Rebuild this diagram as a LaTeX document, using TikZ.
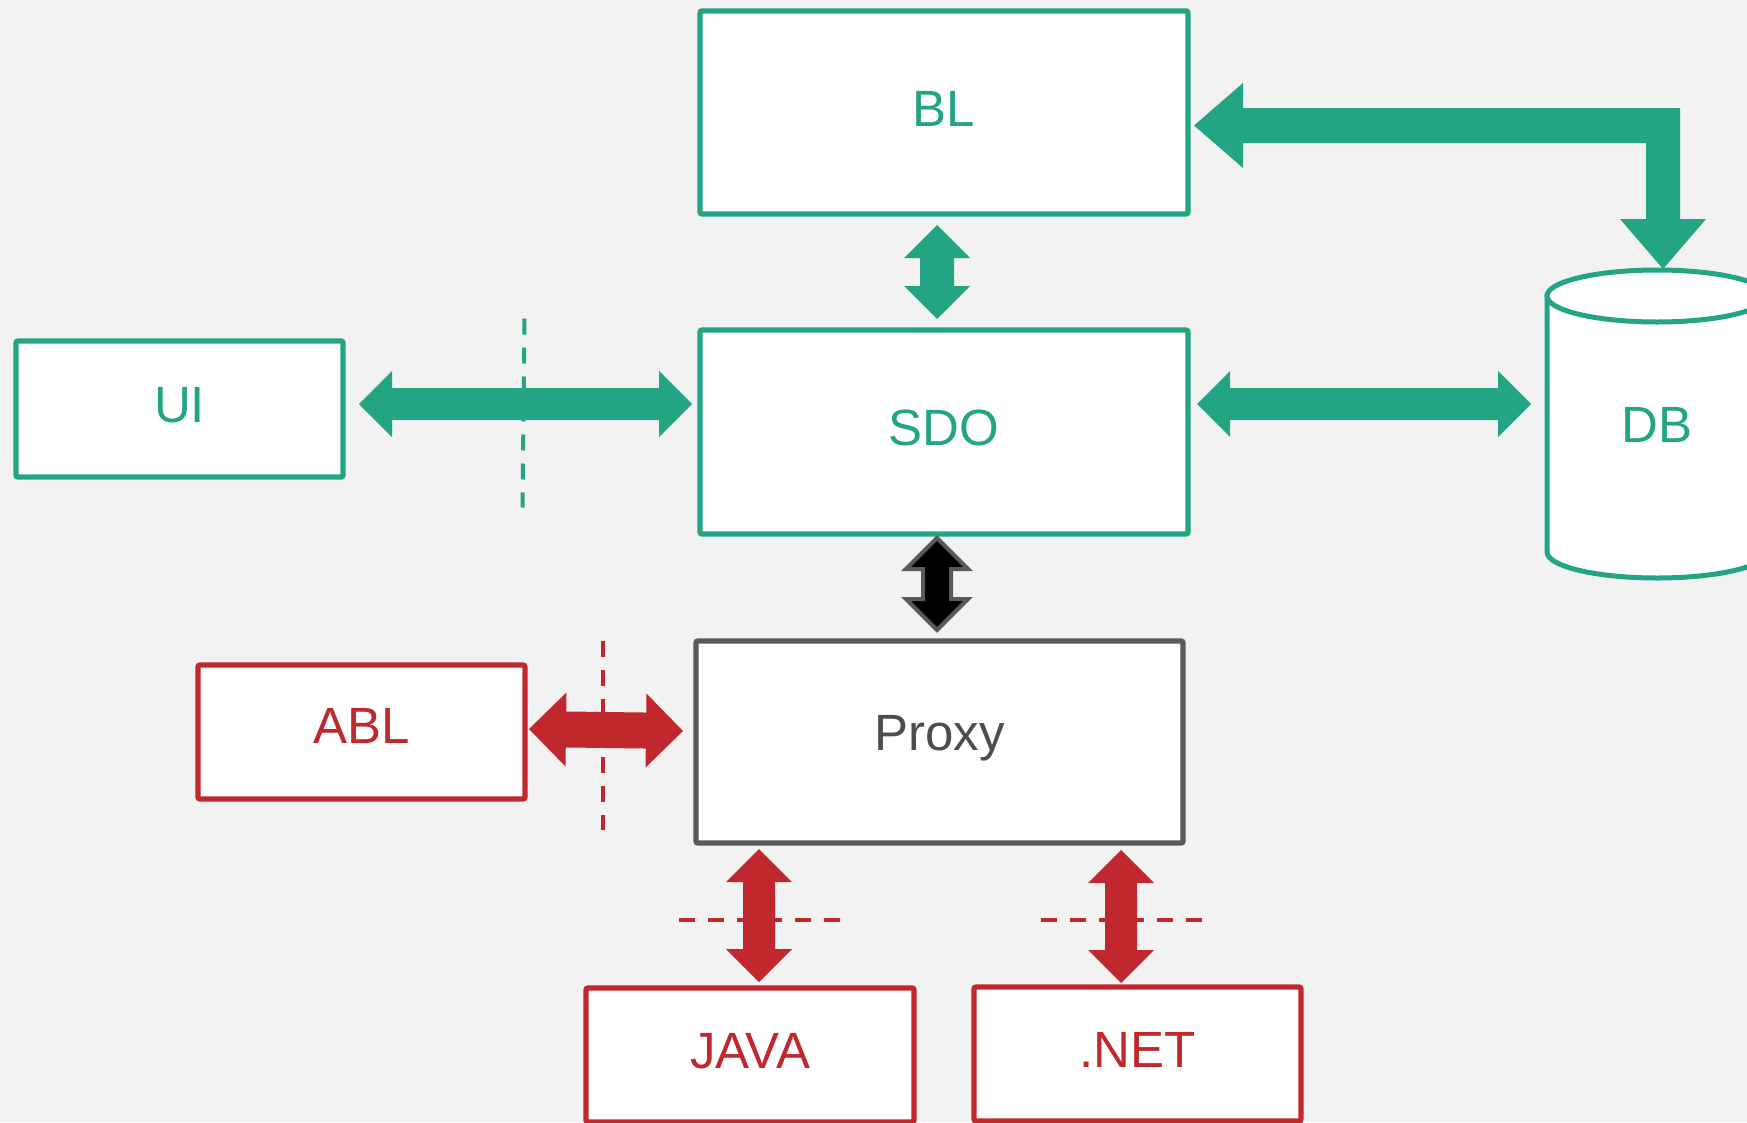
\documentclass[tikz,border=0pt]{standalone}
\usepackage{fontspec}
\setmainfont{Liberation Sans}
\usetikzlibrary{calc}
\definecolor{bg}{HTML}{F2F2F2}
\definecolor{grn}{HTML}{23A584}
\definecolor{rd}{HTML}{C0282D}
\definecolor{gry}{HTML}{595959}
\definecolor{prxtxt}{HTML}{4D4D4D}
% double block arrow: #1 tip A, #2 tip B, #3 style, #4 head length, #5 head half width, #6 shaft half width
\newcommand\dblarrow[6]{%
  \coordinate (hA) at ($(#1)!#4!(#2)$);
  \coordinate (hB) at ($(#2)!#4!(#1)$);
  \path[#3] (#1) -- ($(hA)!#5!90:(#2)$) -- ($(hA)!#6!90:(#2)$) -- ($(hB)!#6!-90:(#1)$)
    -- ($(hB)!#5!-90:(#1)$) -- (#2) -- ($(hB)!#5!90:(#1)$) -- ($(hB)!#6!90:(#1)$)
    -- ($(hA)!#6!-90:(#2)$) -- ($(hA)!#5!-90:(#2)$) -- cycle;}
\tikzset{
  box/.style={draw=#1, fill=white, line width=5.3pt, rounded corners=2pt, inner sep=0pt, outer sep=0pt,
    text=#1, font=\fontsize{51}{60}\selectfont, text height=37pt, text depth=10pt},
  dsh/.style={draw=#1, line width=4pt, dash pattern=on 16pt off 13pt},
  garrow/.style={fill=grn},
  rarrow/.style={fill=rd},
  karrow/.style={fill=black, draw=gry, line width=4pt},
}
\begin{document}
\begin{tikzpicture}[x=1pt,y=-1pt]
\useasboundingbox (0,0) rectangle (1747,1122);
\fill[bg] (0,0) rectangle (1747,1122);
\clip (0,0) rectangle (1747,1122);

% boxes
\node[box=grn, minimum width=488pt, minimum height=203pt] (BL) at (944,112.5) {BL};
\node[box=grn, minimum width=488pt, minimum height=204pt] (SDO) at (944,432) {SDO};
\node[box=grn, minimum width=327pt, minimum height=136pt] (UI) at (179.5,409) {UI};
\node[box=gry, text=prxtxt, text depth=21pt, minimum width=487pt, minimum height=202pt] (Proxy) at (939.5,742) {Proxy};
\node[box=rd, text depth=14pt, minimum width=327pt, minimum height=134pt] (ABL) at (361.5,732) {ABL};
\node[box=rd, minimum width=328pt, minimum height=134pt] (JAVA) at (750,1055) {JAVA};
\node[box=rd, minimum width=327pt, minimum height=134pt] (NET) at (1137.5,1054) {.NET};

% database cylinder
\filldraw[fill=white, draw=grn, line width=5pt]
  (1547,296) -- (1547,552) arc[start angle=180, end angle=360, x radius=110pt, y radius=26pt]
  -- (1767,296) -- cycle;
\filldraw[fill=white, draw=grn, line width=5pt] (1657,296) ellipse[x radius=110pt, y radius=26pt];
\node[text=grn, font=\fontsize{51}{60}\selectfont, text height=37pt, text depth=10pt,
  minimum width=220pt, minimum height=308pt, inner sep=0pt, outer sep=0pt] (DB) at (1657,429) {DB};

% dashed boundaries
\coordinate (gd1) at ($(UI.east)!0.5!(SDO.west)+(3,-102)$);
\coordinate (gd2) at ($(UI.east)!0.5!(SDO.west)+(1,87)$);
\draw[dsh=grn] (gd1) -- (gd2);
\coordinate (rd1) at ($(ABL.east)+(78,-91)$);
\coordinate (rd2) at ($(ABL.east)+(78,98)$);
\draw[dsh=rd] (rd1) -- (rd2);
\coordinate (rh1) at ($(Proxy.south west)+(-17,77)$);
\coordinate (rh2) at ($(Proxy.south west)+(145,77)$);
\draw[dsh=rd] (rh1) -- (rh2);
\coordinate (rh3) at ($(Proxy.south east)+(-142,77)$);
\coordinate (rh4) at ($(Proxy.south east)+(20,77)$);
\draw[dsh=rd] (rh3) -- (rh4);

% arrow tips
\coordinate (blS) at ($(BL.south)+(-7,11)$);
\coordinate (sdoN) at ($(SDO.north)+(-7,-11)$);
\coordinate (uiE) at ($(UI.east)+(16,-5)$);
\coordinate (sdoW) at ($(SDO.west)+(-8,-28)$);
\coordinate (sdoE) at ($(SDO.east)+(9,-28)$);
\coordinate (dbW) at ($(DB.west)+(-16,-25)$);
\coordinate (sdoS) at ($(SDO.south)+(-7,4)$);
\coordinate (prN) at ($(Proxy.north)+(-2.5,-11)$);
\coordinate (ablE) at ($(ABL.east)+(4,-3)$);
\coordinate (prW) at ($(Proxy.west)+(-13,-11)$);
\coordinate (prSJ) at ($(Proxy.south west)+(63,6)$);
\coordinate (javaN) at ($(JAVA.north)+(9,-6)$);
\coordinate (prSN) at ($(Proxy.south east)+(-62,7)$);
\coordinate (netN) at ($(NET.north)+(-16.5,-4)$);
\coordinate (blE) at ($(BL.east)+(6,13)$);
\coordinate (dbN) at ($(DB.north)+(6,-6)$);

% straight double arrows
\dblarrow{blS}{sdoN}{garrow}{33pt}{33pt}{17pt}
\dblarrow{uiE}{sdoW}{garrow}{33pt}{33pt}{16pt}
\dblarrow{sdoE}{dbW}{garrow}{33pt}{33pt}{16pt}
\dblarrow{sdoS}{prN}{karrow}{31pt}{31pt}{14pt}
\dblarrow{ablE}{prW}{rarrow}{37pt}{37pt}{18pt}
\dblarrow{prSJ}{javaN}{rarrow}{33pt}{33pt}{16pt}
\dblarrow{prSN}{netN}{rarrow}{33pt}{33pt}{16pt}

% elbow arrow BL <-> DB
\coordinate (elb) at (dbN |- blE);
\fill[grn] (blE) -- ($(blE)+(49,-42.5)$) -- ($(blE)+(49,-17.5)$) -- ($(elb)+(17,-17.5)$)
  -- ($(dbN)+(17,-50)$) -- ($(dbN)+(43,-50)$) -- (dbN) -- ($(dbN)+(-43,-50)$)
  -- ($(dbN)+(-17,-50)$) -- ($(elb)+(-17,17.5)$) -- ($(blE)+(49,17.5)$)
  -- ($(blE)+(49,42.5)$) -- cycle;
\end{tikzpicture}
\end{document}
